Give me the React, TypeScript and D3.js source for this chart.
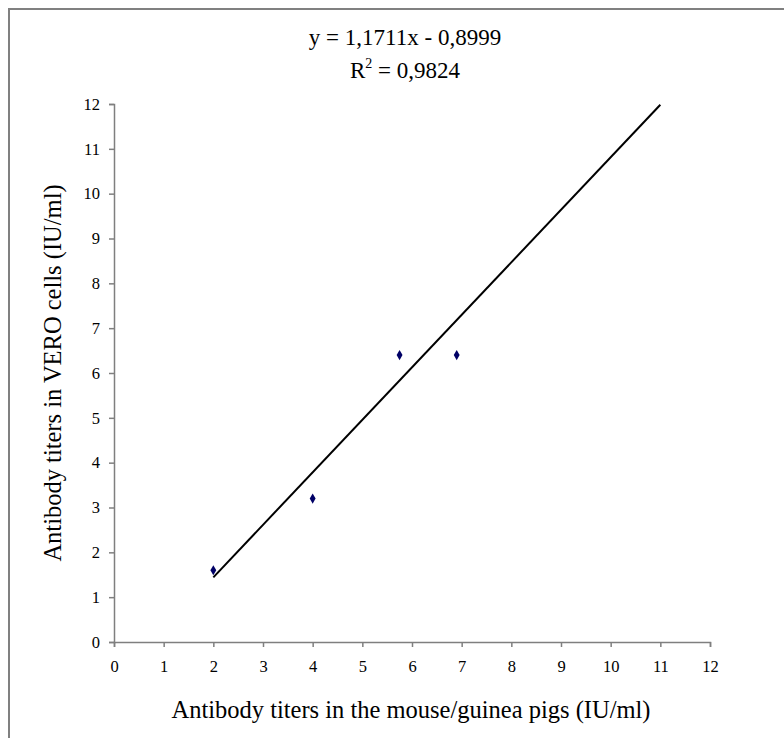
import React, { useRef, useEffect } from 'react';
import * as d3 from 'd3';

// measured titers (IU/ml)
const mouseTiters = [2, 4, 5.75, 6.9];
const veroTiters = [1.6, 3.2, 6.4, 6.4];

// trendline as printed on the chart
const slope = 1.1711;
const intercept = -0.8999;
const trendRange = [2, 11];

const xTicks = d3.range(0, 13);
const yTicks = d3.range(0, 13);

const equationText = 'y = 1,1711x - 0,8999';
const r2Value = '0,9824';
const xTitle = 'Antibody titers in the mouse/guinea pigs (IU/ml)';
const yTitle = 'Antibody titers in VERO cells (IU/ml)';

const App = () => {
  const svgRef = useRef(null);
  const width = 784;
  const height = 738;
  const margin = { top: 104, right: 74, bottom: 96, left: 114 }; // plot box 114..710 x 104..642

  useEffect(() => {
    const svg = d3.select(svgRef.current);
    svg.selectAll('*').remove();

    const font = '"Liberation Serif", "Times New Roman", serif';
    const x = d3.scaleLinear().domain([0, 12]).range([margin.left, width - margin.right]);
    const y = d3.scaleLinear().domain([0, 12]).range([height - margin.bottom, margin.top]);

    // outer chart frame (only left/top visible in the picture)
    svg.append('rect')
      .attr('x', 9).attr('y', 9)
      .attr('width', 900).attr('height', 900)
      .attr('fill', 'white')
      .attr('stroke', '#808080')
      .attr('stroke-width', 2);

    // equation + R²
    const cx = 405;
    svg.append('text')
      .attr('x', cx).attr('y', 45)
      .attr('text-anchor', 'middle')
      .style('font-family', font).style('font-size', '23px')
      .text(equationText);

    const r2 = svg.append('text')
      .attr('x', cx).attr('y', 78)
      .attr('text-anchor', 'middle')
      .style('font-family', font).style('font-size', '23px');
    r2.append('tspan').text('R');
    r2.append('tspan').attr('dy', -10).style('font-size', '14px').text('2');
    r2.append('tspan').attr('dy', 10).text(' = ' + r2Value);

    // axes
    const styleAxis = g => {
      g.select('.domain').attr('stroke', '#7f7f7f').attr('stroke-width', 1.5);
      g.selectAll('.tick line').attr('stroke', '#7f7f7f').attr('stroke-width', 1.5);
      g.selectAll('.tick text')
        .style('font-family', font).style('font-size', '16.5px').attr('fill', '#000');
    };

    svg.append('g')
      .attr('transform', `translate(0,${y(0)})`)
      .call(d3.axisBottom(x).tickValues(xTicks).tickSizeInner(5).tickSizeOuter(5).tickPadding(13))
      .call(styleAxis);

    svg.append('g')
      .attr('transform', `translate(${x(0)},0)`)
      .call(d3.axisLeft(y).tickValues(yTicks).tickSizeInner(5).tickSizeOuter(5).tickPadding(9))
      .call(styleAxis);

    // axis titles
    svg.append('text')
      .attr('x', 411).attr('y', 718)
      .attr('text-anchor', 'middle')
      .style('font-family', font).style('font-size', '24.5px')
      .text(xTitle);

    svg.append('text')
      .attr('transform', `translate(61,${(y(0) + y(12)) / 2}) rotate(-90)`)
      .attr('text-anchor', 'middle')
      .style('font-family', font).style('font-size', '24.5px')
      .text(yTitle);

    // linear trendline
    const line = d3.line().x(d => x(d)).y(d => y(slope * d + intercept));
    svg.append('path')
      .attr('d', line(trendRange))
      .attr('fill', 'none')
      .attr('stroke', '#000')
      .attr('stroke-width', 2);

    // data markers
    svg.selectAll('path.pt')
      .data(mouseTiters.map((d, i) => [d, veroTiters[i]]))
      .join('path')
      .attr('class', 'pt')
      .attr('transform', d => `translate(${x(d[0])},${y(d[1])})`)
      .attr('d', d3.symbol(d3.symbolDiamond, 30))
      .attr('fill', '#000066');
  }, []);

  return (
    <svg ref={svgRef} width={width} height={height}
      style={{ position: 'absolute', left: 0, top: 0, background: '#fff' }} />
  );
};

export default App;
